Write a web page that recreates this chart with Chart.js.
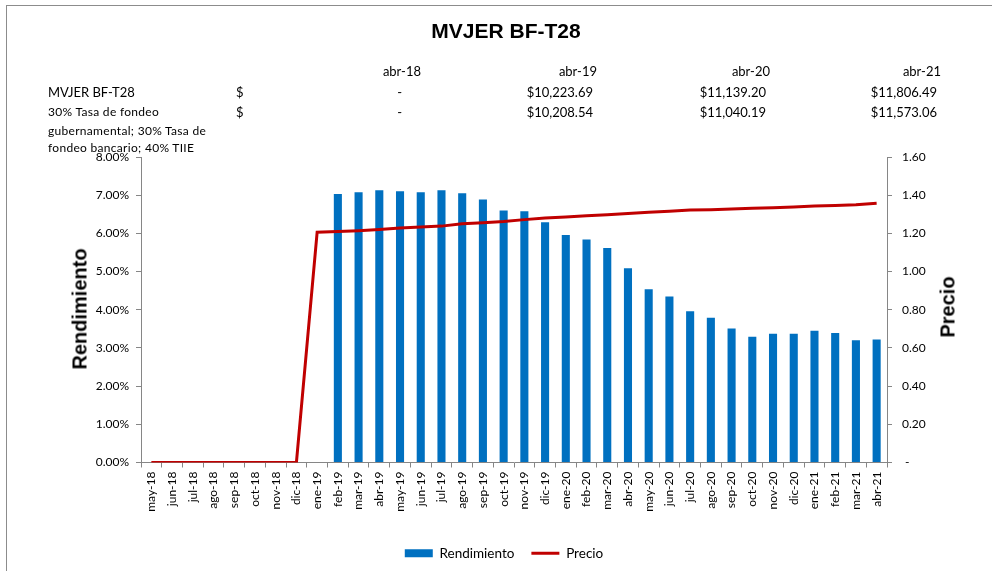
<!DOCTYPE html>
<html>
<head>
<meta charset="utf-8">
<script src="https://cdn.jsdelivr.net/npm/chart.js"></script>
<style>
  body { margin: 0; background: #fff; }
  #wrap { position: relative; width: 992px; height: 571px; overflow: hidden; }
  #frame { position: absolute; left: 6px; top: 5px; right: -5px; bottom: -5px; border-left: 1px solid #8c8c8c; border-top: 1px solid #8c8c8c; }
  canvas { position: absolute; left: 0; top: 0; }
  .t { position: absolute; font-family: Lato, sans-serif; font-size: 13px; line-height: 16px; color: #000; white-space: nowrap; }
  .small { font-size: 12px; letter-spacing: 0.3px; }
  .title { position: absolute; left: 506px; top: 19px; transform: translateX(-50%); font: bold 21px "Liberation Sans", Arial, sans-serif; color: #000; white-space: nowrap; }
  .axt { position: absolute; font: bold 20px "Liberation Sans", Arial, sans-serif; color: #000; transform: translate(-50%, -50%) rotate(-90deg); white-space: nowrap; }
</style>
</head>
<body>
<div id="wrap">
  <div id="frame"></div>
  <canvas id="js--chart" width="992" height="571"></canvas>
  <div class="title">MVJER BF-T28</div>
  <div class="axt" style="left:80px; top:309px;">Rendimiento</div>
  <div class="axt" style="left:948px; top:307px;">Precio</div>
  <div id="table"></div>
</div>
<script>
const months = ['may-18', 'jun-18', 'jul-18', 'ago-18', 'sep-18', 'oct-18', 'nov-18', 'dic-18',
  'ene-19', 'feb-19', 'mar-19', 'abr-19', 'may-19', 'jun-19', 'jul-19', 'ago-19', 'sep-19', 'oct-19', 'nov-19', 'dic-19',
  'ene-20', 'feb-20', 'mar-20', 'abr-20', 'may-20', 'jun-20', 'jul-20', 'ago-20', 'sep-20', 'oct-20', 'nov-20', 'dic-20',
  'ene-21', 'feb-21', 'mar-21', 'abr-21'];

// rendimiento in %
const rendimiento = [null, null, null, null, null, null, null, null,
  null, 7.03, 7.08, 7.13, 7.10, 7.08, 7.13, 7.05, 6.89, 6.60, 6.58, 6.29,
  5.96, 5.84, 5.62, 5.09, 4.54, 4.35, 3.96, 3.79, 3.51, 3.29, 3.37, 3.37,
  3.45, 3.39, 3.20, 3.22];

const precio = [0, 0, 0, 0, 0, 0, 0, 0,
  1.206, 1.210, 1.214, 1.220, 1.228, 1.234, 1.238, 1.250, 1.256, 1.262, 1.272, 1.280,
  1.286, 1.292, 1.298, 1.304, 1.310, 1.316, 1.322, 1.324, 1.328, 1.332, 1.334, 1.338,
  1.344, 1.346, 1.350, 1.358];

const tableCols = ['abr-18', 'abr-19', 'abr-20', 'abr-21'];
const fundValues = ['-', '$10,223.69', '$11,139.20', '$11,806.49'];
const benchValues = ['-', '$10,208.54', '$11,040.19', '$11,573.06'];
const fundName = 'MVJER BF-T28';
const benchName = ['30% Tasa de fondeo', 'gubernamental; 30% Tasa de', 'fondeo bancario; 40% TIIE'];

// table on top of the chart
const colRight = [421, 597, 770, 941];
const table = document.getElementById('table');

function addText(txt, top, left, right, cls) {
  const d = document.createElement('div');
  d.className = 't' + (cls ? ' ' + cls : '');
  d.textContent = txt;
  d.style.top = top + 'px';
  if (left != null) d.style.left = left + 'px';
  else d.style.right = (992 - right) + 'px';
  table.appendChild(d);
}

tableCols.forEach(function (c, i) { addText(c, 63, null, colRight[i]); });
addText(fundName, 84, 48);
addText('$', 84, 236);
addText('$', 104, 236);
fundValues.forEach(function (v, i) { addText(v, 84, null, colRight[i] - (v === '-' ? 19 : 4)); });
benchValues.forEach(function (v, i) { addText(v, 104, null, colRight[i] - (v === '-' ? 19 : 4)); });
benchName.forEach(function (txt, i) { addText(txt, [104, 123, 140][i], 48, null, 'small'); });

const axisColor = '#868686';
const tickFont = { family: 'Lato', size: 12 };

const data = {
  labels: months,
  datasets: [
    {
      type: 'bar',
      label: 'Rendimiento',
      data: rendimiento,
      backgroundColor: '#0070C0',
      borderWidth: 0,
      categoryPercentage: 1,
      barPercentage: 0.39,
      yAxisID: 'y',
      pointStyle: 'rect',
      order: 1
    },
    {
      type: 'line',
      label: 'Precio',
      data: precio,
      borderColor: '#C00000',
      backgroundColor: '#C00000',
      borderWidth: 3,
      pointRadius: 0,
      tension: 0,
      yAxisID: 'y1',
      pointStyle: 'line',
      order: 0
    }
  ]
};

const config = {
  type: 'bar',
  data: data,
  options: {
    responsive: false,
    animation: false,
    layout: { padding: { top: 157, left: 16, right: 0, bottom: 1 } },
    plugins: {
      legend: {
        position: 'bottom',
        labels: {
          usePointStyle: true,
          pointStyleWidth: 28,
          boxHeight: 8,
          padding: 17,
          color: '#000',
          font: { family: 'Lato', size: 13.5 },
          sort: function (a, b) { return a.datasetIndex - b.datasetIndex; }
        }
      },
      tooltip: { enabled: false }
    },
    scales: {
      x: {
        grid: { drawOnChartArea: false, tickLength: 5, color: axisColor, offset: true },
        border: { color: axisColor },
        ticks: { autoSkip: false, maxRotation: 90, minRotation: 90, padding: 4, color: '#000', font: tickFont },
        afterFit: function (s) { s.height = 67; }
      },
      y: {
        position: 'left',
        min: 0,
        max: 8,
        grid: { drawOnChartArea: false, tickLength: 5, color: axisColor },
        border: { color: axisColor },
        ticks: {
          stepSize: 1, padding: 7, color: '#000', font: tickFont,
          callback: function (v) { return v.toFixed(2) + '%'; }
        },
        afterFit: function (s) { s.width = 125; }
      },
      y1: {
        position: 'right',
        min: 0,
        max: 1.6,
        grid: { drawOnChartArea: false, tickLength: 5, color: axisColor },
        border: { color: axisColor },
        ticks: {
          stepSize: 0.2, padding: 10, color: '#000', font: tickFont,
          callback: function (v) { return Math.abs(v) < 1e-9 ? ' -' : v.toFixed(2); }
        },
        afterFit: function (s) { s.width = 105; }
      }
    }
  }
};

new Chart(document.getElementById('js--chart'), config);
</script>
</body>
</html>
